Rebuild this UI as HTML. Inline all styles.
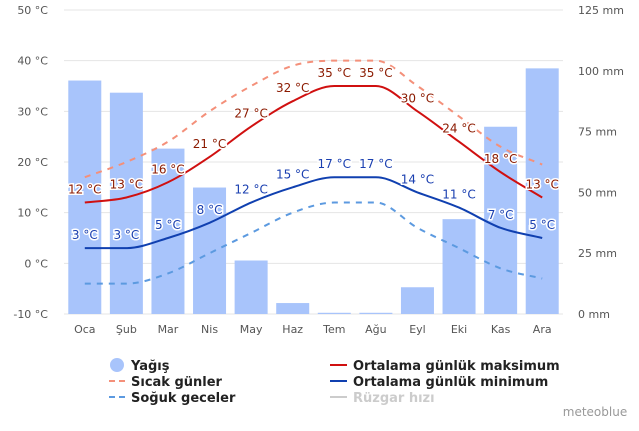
<!DOCTYPE html>
<html><head><meta charset="utf-8"><style>
body{margin:0;background:#fff;}
svg text{font-family:"DejaVu Sans","Liberation Sans",sans-serif;}
</style></head><body>
<svg id="chart" width="639" height="426" xmlns="http://www.w3.org/2000/svg">
<g id="grid"></g><g id="bars"></g><g id="lines"></g><g id="labels"></g><g id="axes"></g>
<g font-size="13" font-weight="bold" fill="#222">
<g><circle cx="117" cy="365" r="7" fill="#a8c4fb"/><text x="131" y="370">Yağış</text></g>
<g><line x1="109" y1="381" x2="125" y2="381" stroke="#f4907a" stroke-width="2" stroke-dasharray="6,4"/><text x="131" y="386">Sıcak günler</text></g>
<g><line x1="109" y1="397" x2="125" y2="397" stroke="#5c9ae0" stroke-width="2" stroke-dasharray="6,4"/><text x="131" y="402">Soğuk geceler</text></g>
<g><line x1="330" y1="365" x2="347" y2="365" stroke="#d01010" stroke-width="2"/><text x="353" y="370">Ortalama günlük maksimum</text></g>
<g><line x1="330" y1="381" x2="347" y2="381" stroke="#1040b0" stroke-width="2"/><text x="353" y="386">Ortalama günlük minimum</text></g>
<g><line x1="330" y1="397" x2="347" y2="397" stroke="#ccc" stroke-width="2"/><text x="353" y="402" fill="#ccc">Rüzgar hızı</text></g>
</g>
<text x="595" y="416" font-size="12" fill="#999" text-anchor="middle">meteoblue</text>
</svg>
<script>
const months=["Oca","Şub","Mar","Nis","May","Haz","Tem","Ağu","Eyl","Eki","Kas","Ara"];
const precip=[96,91,68,52,22,4.5,0.5,0.5,11,39,77,101];
const tMax=[12,13,16,21,27,32,35,35,30,24,18,13];
const tMin=[3,3,5,8,12,15,17,17,14,11,7,5];
const hotDays=[17,20,24,30,35,39,40,40,35,29,23,19.5];
const coldNights=[-4,-4,-2,2,6,10,12,12,7,3,-1,-3];
const tempTicks=[-10,0,10,20,30,40,50];
const precipTicks=[0,25,50,75,100,125];
const NS="http://www.w3.org/2000/svg";
const L=64,R=563,T=10,B=314;
const bw=(R-L)/months.length;
const xc=i=>L+bw*(i+0.5);
const yT=v=>B-(v+10)/60*(B-T);
const yP=v=>B-v/125*(B-T);
function mk(tag,attrs,parent){const e=document.createElementNS(NS,tag);for(const k in attrs)e.setAttribute(k,attrs[k]);document.getElementById(parent).appendChild(e);return e;}
tempTicks.forEach(v=>{
 const l=mk("line",{x1:L,x2:R,y1:yT(v),y2:yT(v),stroke:"#e4e4e4","stroke-width":1},"grid");
 
 
 const t=mk("text",{x:48,y:yT(v)+4,"font-size":11,fill:"#555","text-anchor":"end"},"axes");t.textContent=v+" °C";
 
 
});
precipTicks.forEach(v=>{
 const t=mk("text",{x:578,y:yP(v)+4,"font-size":11,fill:"#555"},"axes");t.textContent=v+" mm";
 
 
});
months.forEach((m,i)=>{
 const t=mk("text",{x:xc(i),y:333,"font-size":11,fill:"#555","text-anchor":"middle"},"axes");t.textContent=m;
 
 
 const b=mk("rect",{x:xc(i)-16.5,y:yP(precip[i]),width:33,height:B-yP(precip[i]),fill:"#a8c4fb"},"bars");
 
 
});
function path(arr){
 const p=arr.map((v,i)=>[xc(i),yT(v)]);const n=p.length;
 const h=bw;const dl=[];for(let i=0;i<n-1;i++)dl.push((p[i+1][1]-p[i][1])/h);
 const m=[];m[0]=dl[0];m[n-1]=dl[n-2];
 for(let i=1;i<n-1;i++){m[i]=(dl[i-1]*dl[i]<=0)?0:(dl[i-1]+dl[i])/2;}
 for(let i=0;i<n-1;i++){if(dl[i]===0){m[i]=0;m[i+1]=0;continue;}const a=m[i]/dl[i],b=m[i+1]/dl[i],s=a*a+b*b;if(s>9){const t=3/Math.sqrt(s);m[i]=t*a*dl[i];m[i+1]=t*b*dl[i];}}
 let d="M"+p[0][0]+","+p[0][1];
 for(let i=0;i<n-1;i++){d+=` C${p[i][0]+h/3},${p[i][1]+m[i]*h/3} ${p[i+1][0]-h/3},${p[i+1][1]-m[i+1]*h/3} ${p[i+1][0]},${p[i+1][1]}`;}
 return d;}
[[hotDays,"#f4907a","6,6","hot-days-line"],[coldNights,"#5c9ae0","6,6","cold-nights-line"],[tMax,"#d01010","","max-temp-line"],[tMin,"#1040b0","","min-temp-line"]].forEach(s=>{
 const e=mk("path",{d:path(s[0]),fill:"none",stroke:s[1],"stroke-width":2,"stroke-dasharray":s[2]||"none"},"lines");
 
 
});
[[tMax,"#8b1a00"],[tMin,"#1a3fb0"]].forEach(s=>{
 s[0].forEach((v,i)=>{
  const t=mk("text",{x:xc(i),y:yT(v)-9,"font-size":12,fill:s[1],"text-anchor":"middle",stroke:"#fff","stroke-width":3,"paint-order":"stroke"},"labels");
  t.textContent=v+" °C";
  
  
 });
});
</script>
</body></html>
